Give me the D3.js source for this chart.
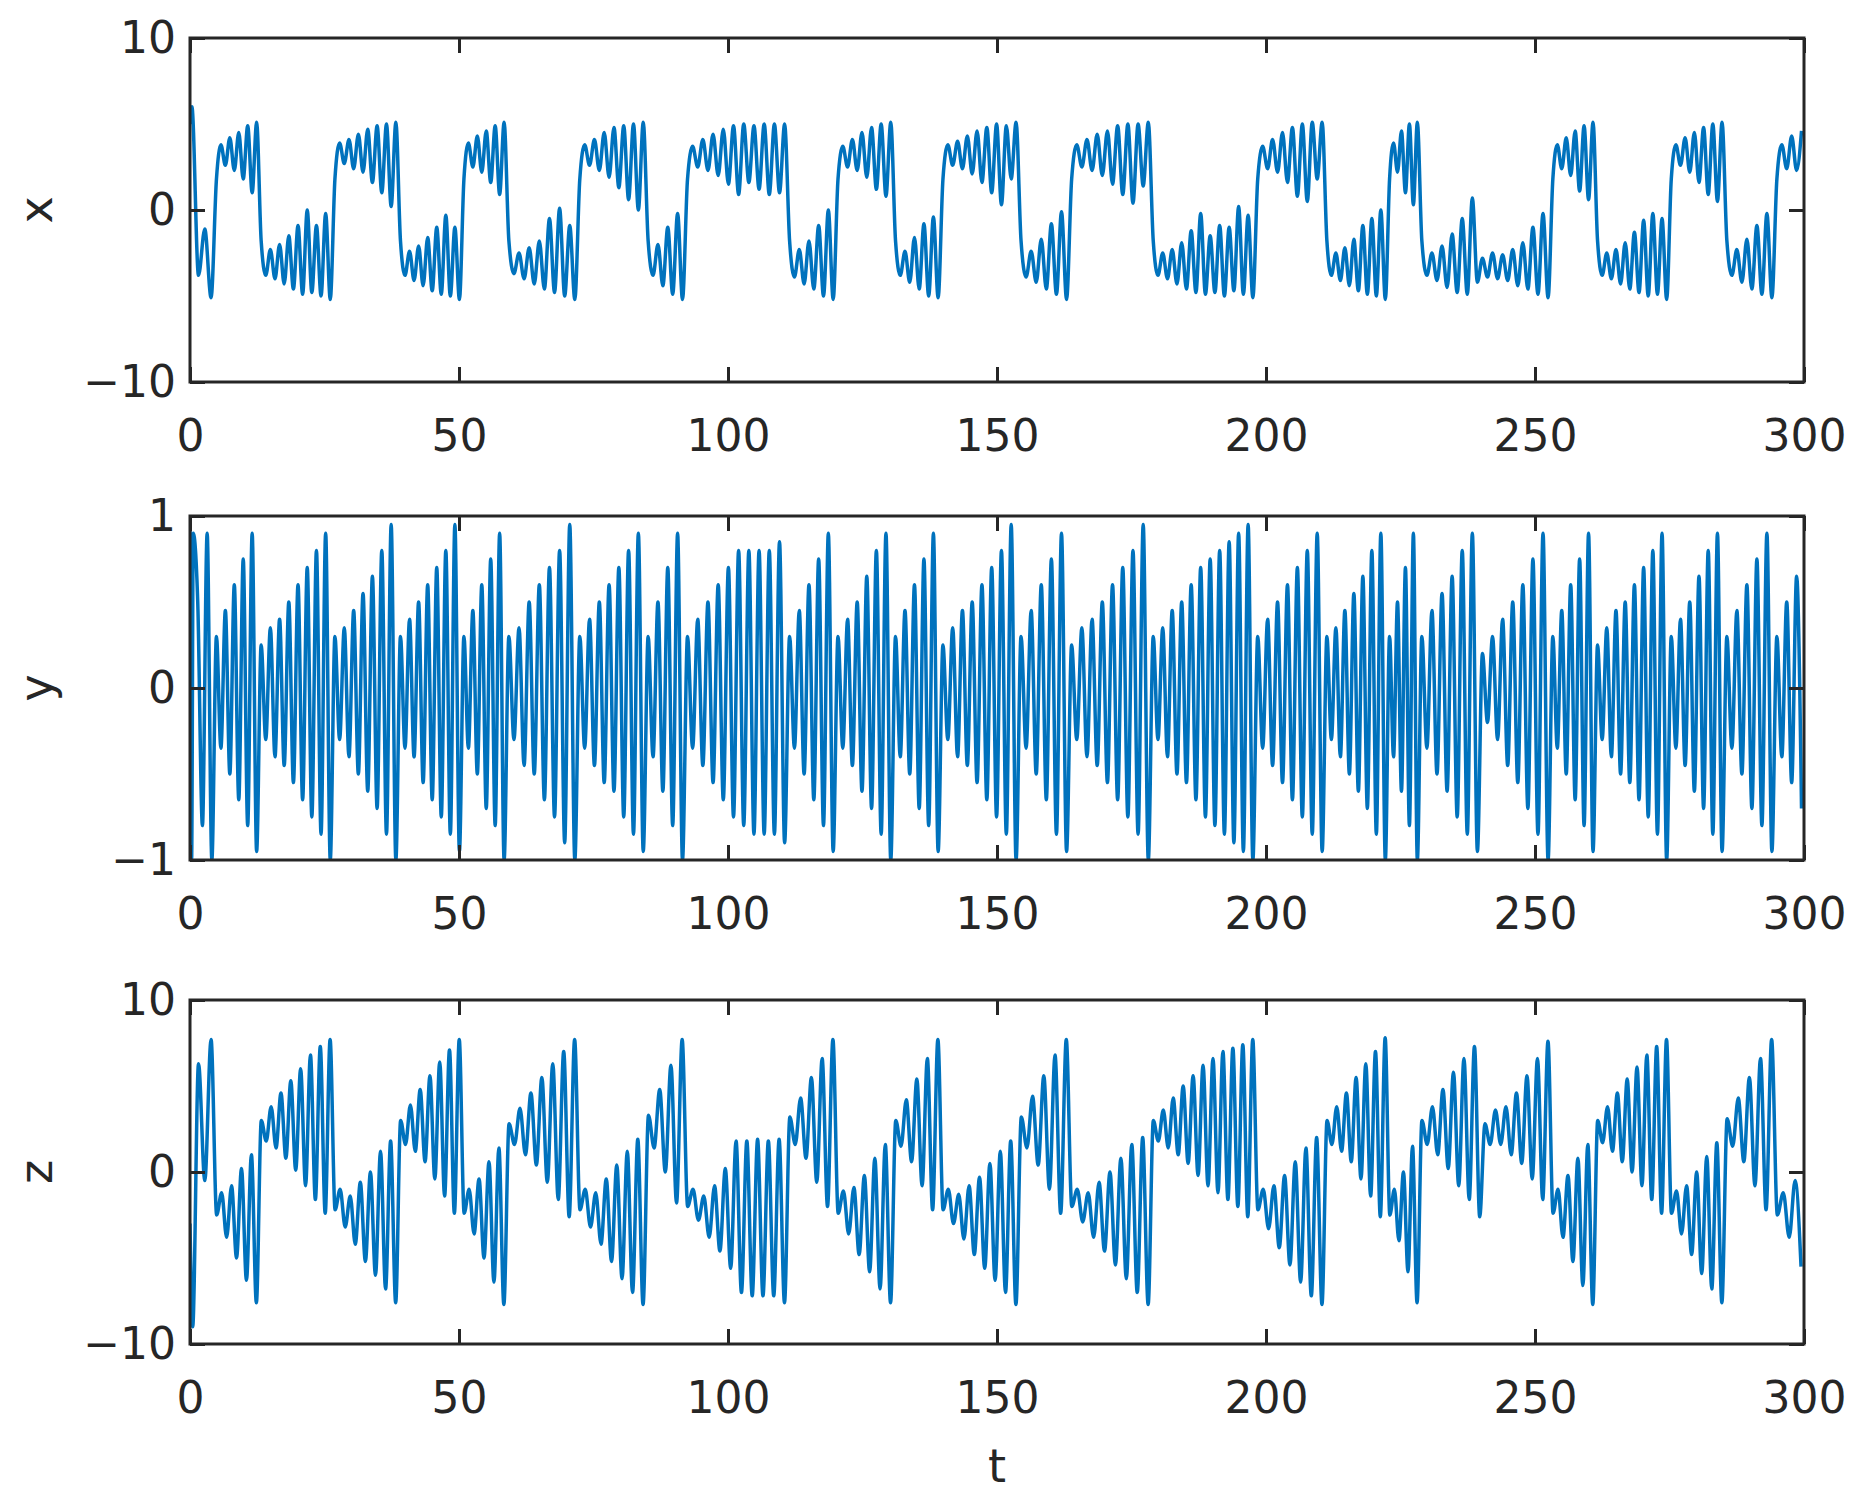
<!DOCTYPE html>
<html><head><meta charset="utf-8">
<script src="https://cdn.jsdelivr.net/npm/d3@7"></script>
<style>body{margin:0;background:#fff}</style></head>
<body><svg id="c" width="1871" height="1503"></svg>
<script>
// regime boundaries (t)
const bounds = [1,4.5,12.8,26.5,38.7,50.5,58.8,72,84.7,92,111,120,130.7,139.5,154,163.4,178.6,198,210.9,222.6,228.5,252.9,261.2,274.9,285.2,294.5,300];
const xTicks = [0,50,100,150,200,250,300];
const x0 = [[0,5],[0.35,6.0]];
const y0 = [[0,1],[0.3,-1],[0.6,0.9]];
const z0 = [[0,-3],[0.5,-9]];
// extrema per regime
const xVals = [
[-3.8,-1.1,-5.1],
[1.8,3.8,2.6,4.2,2.3,4.5,1.8,4.9,1.0,5.1],
[-1.8,-3.8,-2.3,-4.0,-2.0,-4.3,-1.5,-4.6,-0.9,-4.9,0.0,-4.8,-0.9,-5.0,-0.2,-5.2],
[1.8,3.9,2.7,4.1,2.4,4.4,2.2,4.7,1.6,4.9,1.0,5.0,0.2,5.1],
[-1.8,-3.8,-2.4,-4.1,-2.1,-4.4,-1.6,-4.7,-1.0,-4.9,-0.3,-5.0,-1.0,-5.2],
[1.8,3.9,2.5,4.3,2.2,4.6,1.6,4.9,0.9,5.1],
[-1.8,-3.7,-2.5,-4.0,-2.2,-4.3,-1.8,-4.6,-0.5,-4.8,0.1,-5.0,-0.9,-5.2],
[1.8,3.8,2.6,4.1,2.3,4.5,1.9,4.8,1.3,4.9,0.6,5.0,0.0,5.1],
[-1.8,-3.8,-2.0,-4.4,-1.0,-4.9,-0.2,-5.2],
[1.8,3.7,2.5,4.1,2.3,4.4,2.0,4.7,1.5,4.9,0.9,5.0,1.6,4.9,1.2,5.0,0.9,5.0,1.0,5.0],
[-1.8,-3.9,-2.3,-4.3,-1.8,-4.6,-0.9,-5.0,0.0,-5.2],
[1.8,3.7,2.5,4.1,2.3,4.5,1.9,4.8,1.2,5.0,0.8,5.1],
[-1.8,-3.8,-2.4,-4.2,-1.6,-4.6,-0.8,-5.0,-0.4,-5.1],
[1.8,3.8,2.6,4.0,2.4,4.3,2.1,4.6,1.6,4.8,1.0,5.0,0.3,4.9,1.8,5.1],
[-1.8,-3.9,-2.4,-4.2,-1.7,-4.6,-0.8,-4.9,-0.1,-5.2],
[1.8,3.8,2.5,4.1,2.3,4.4,2.0,4.6,1.5,4.9,0.9,5.0,0.4,5.0,1.4,5.1],
[-1.8,-3.8,-2.5,-4.0,-2.3,-4.3,-1.9,-4.6,-1.2,-4.8,-0.2,-4.9,-1.5,-4.8,-0.9,-5.0,-1.0,-4.7,0.2,-4.9,-0.3,-5.1],
[1.8,3.7,2.4,4.1,2.2,4.5,1.6,4.8,0.8,5.0,0.5,5.1,1.8,5.1],
[-1.8,-3.8,-2.5,-4.1,-2.2,-4.4,-1.7,-4.7,-0.9,-4.9,-0.5,-5.0,0.0,-5.2],
[1.8,3.9,2.2,4.6,1.0,5.0,0.3,5.1],
[-1.8,-3.8,-2.5,-4.1,-2.1,-4.5,-1.4,-4.8,-0.5,-4.9,0.7,-4.2,-2.8,-3.9,-2.5,-4.0,-2.6,-4.1,-2.3,-4.4,-1.9,-4.6,-1.0,-4.9,-0.2,-5.1],
[1.8,3.8,2.4,4.2,2.0,4.6,1.1,4.9,0.6,5.1],
[-1.8,-3.8,-2.5,-4.0,-2.3,-4.3,-1.9,-4.6,-1.3,-4.8,-0.6,-5.0,-0.2,-4.9,-0.5,-5.2],
[1.8,3.8,2.6,4.2,2.2,4.5,1.6,4.8,0.9,5.0,0.5,5.1],
[-1.8,-3.8,-2.3,-4.2,-1.7,-4.6,-0.9,-4.9,-0.2,-5.1],
[1.8,3.8,2.4,4.3,2.3,4.6]
];
const yVals = [
[0.5,-0.8,0.9,-1.0],
[0.3,-0.35,0.45,-0.5,0.6,-0.65,0.75,-0.8,0.9,-0.95],
[0.25,-0.3,0.35,-0.4,0.4,-0.45,0.5,-0.55,0.6,-0.65,0.7,-0.75,0.8,-0.85,0.9,-1.0],
[0.3,-0.3,0.35,-0.4,0.45,-0.5,0.55,-0.6,0.65,-0.7,0.8,-0.85,0.95,-1.0],
[0.3,-0.35,0.4,-0.4,0.5,-0.55,0.6,-0.65,0.7,-0.75,0.8,-0.85,0.95,-0.95],
[0.3,-0.35,0.45,-0.5,0.6,-0.7,0.75,-0.8,0.9,-1.0],
[0.3,-0.3,0.35,-0.45,0.5,-0.5,0.6,-0.65,0.7,-0.75,0.8,-0.9,0.95,-1.0],
[0.3,-0.35,0.4,-0.45,0.5,-0.55,0.6,-0.6,0.7,-0.75,0.8,-0.85,0.9,-0.95],
[0.3,-0.4,0.5,-0.6,0.7,-0.8,0.9,-1.0],
[0.3,-0.35,0.4,-0.45,0.5,-0.55,0.6,-0.65,0.7,-0.75,0.8,-0.8,0.8,-0.85,0.8,-0.85,0.8,-0.85,0.85,-0.9],
[0.3,-0.35,0.45,-0.5,0.6,-0.65,0.75,-0.8,0.9,-0.95],
[0.3,-0.35,0.4,-0.45,0.5,-0.6,0.65,-0.7,0.8,-0.85,0.9,-1.0],
[0.3,-0.4,0.45,-0.5,0.6,-0.7,0.75,-0.8,0.9,-0.95],
[0.25,-0.3,0.35,-0.4,0.45,-0.45,0.5,-0.55,0.6,-0.65,0.7,-0.75,0.8,-0.85,0.95,-1.0],
[0.3,-0.35,0.45,-0.5,0.6,-0.65,0.75,-0.85,0.9,-0.95],
[0.25,-0.3,0.35,-0.4,0.4,-0.45,0.5,-0.55,0.6,-0.65,0.7,-0.75,0.8,-0.85,0.95,-1.0],
[0.3,-0.3,0.35,-0.4,0.45,-0.5,0.5,-0.55,0.6,-0.65,0.7,-0.75,0.75,-0.8,0.8,-0.85,0.85,-0.9,0.9,-0.95,0.95,-1.0],
[0.3,-0.35,0.4,-0.45,0.5,-0.55,0.6,-0.65,0.7,-0.75,0.8,-0.85,0.9,-0.95],
[0.3,-0.3,0.35,-0.4,0.45,-0.5,0.55,-0.6,0.65,-0.7,0.8,-0.85,0.9,-1.0],
[0.3,-0.4,0.5,-0.6,0.7,-0.8,0.9,-1.0],
[0.3,-0.35,0.45,-0.5,0.55,-0.6,0.65,-0.75,0.8,-0.85,0.9,-0.95,0.2,-0.2,0.3,-0.3,0.4,-0.45,0.5,-0.55,0.6,-0.7,0.75,-0.85,0.9,-1.0],
[0.3,-0.35,0.45,-0.5,0.6,-0.65,0.75,-0.8,0.9,-0.95],
[0.25,-0.3,0.35,-0.4,0.45,-0.5,0.5,-0.55,0.6,-0.65,0.7,-0.75,0.8,-0.85,0.9,-1.0],
[0.3,-0.35,0.4,-0.45,0.5,-0.6,0.65,-0.7,0.8,-0.85,0.9,-0.95],
[0.3,-0.35,0.45,-0.5,0.6,-0.7,0.75,-0.8,0.9,-0.95],
[0.3,-0.4,0.5,-0.55,0.65,-0.7]
];
const zVals = [
[6.3,-0.5,7.7],
[-2.5,-1.2,-3.8,-0.8,-5.0,0.2,-6.3,1.0,-7.6],
[3.0,1.8,3.8,1.4,4.6,0.8,5.3,0.1,6.0,-0.8,6.8,-1.6,7.3,-2.4,7.7],
[-2.2,-1.0,-3.2,-1.4,-4.2,-0.6,-5.2,0.0,-6.0,1.2,-6.8,1.8,-7.6],
[3.0,1.6,3.9,1.2,4.8,0.6,5.6,-0.4,6.4,-1.4,7.1,-2.4,7.7],
[-2.4,-1.0,-3.6,-0.4,-5.0,0.6,-6.4,1.4,-7.7],
[2.8,1.6,3.7,1.0,4.6,0.4,5.5,-0.6,6.3,-1.6,7.0,-2.6,7.7],
[-2.2,-1.0,-3.2,-1.2,-4.2,-0.4,-5.2,0.4,-6.2,1.2,-7.0,1.9,-7.7],
[3.3,1.4,4.8,0.0,6.2,-1.8,7.7],
[-2.0,-1.0,-2.8,-1.4,-3.8,-0.8,-4.6,0.2,-5.6,1.8,-7.0,1.8,-7.2,1.9,-7.2,1.8,-7.2,1.9,-7.6],
[3.2,1.6,4.3,0.8,5.5,-0.6,6.6,-2.0,7.7],
[-2.4,-1.1,-3.6,-0.9,-4.8,-0.2,-5.8,0.8,-6.8,1.6,-7.6],
[3.0,1.5,4.2,0.6,5.4,-0.8,6.6,-2.2,7.7],
[-2.2,-1.0,-3.0,-1.3,-3.9,-0.8,-4.8,-0.3,-5.6,0.5,-6.3,1.2,-7.0,1.8,-7.7],
[3.2,1.4,4.4,0.4,5.6,-1.0,6.8,-2.4,7.7],
[-2.0,-1.0,-2.9,-1.2,-3.8,-0.6,-4.6,0.0,-5.4,0.8,-6.2,1.6,-7.0,2.0,-7.7],
[3.0,1.8,3.6,1.4,4.3,1.0,5.0,0.5,5.6,-0.2,6.2,-0.8,6.6,-1.2,7.0,-1.6,7.2,-2.0,7.4,-2.6,7.7],
[-2.2,-1.0,-3.3,-0.8,-4.4,-0.2,-5.4,0.6,-6.4,1.4,-7.2,2.0,-7.7],
[3.0,1.6,3.8,1.2,4.6,0.6,5.5,-0.4,6.3,-1.4,7.0,-2.6,7.8],
[-2.5,-1.0,-4.0,0.0,-5.8,1.5,-7.6],
[3.0,1.6,3.8,1.0,4.8,0.2,5.8,-0.8,6.6,-1.6,7.3,-2.6,2.8,1.6,3.6,1.6,3.8,1.0,4.6,0.5,5.6,-0.4,6.6,-1.6,7.6],
[-2.4,-1.0,-3.8,-0.2,-5.2,0.8,-6.6,1.6,-7.7],
[3.0,1.7,3.8,1.2,4.6,0.6,5.4,0.0,6.1,-0.8,6.8,-1.6,7.3,-2.4,7.7],
[-2.4,-1.1,-3.6,-0.8,-4.8,0.0,-5.9,0.9,-6.8,1.7,-7.6],
[3.1,1.5,4.3,0.6,5.5,-0.8,6.6,-2.2,7.7],
[-2.5,-1.2,-3.8,-0.5,-5.5]
];

function build(init, vals){
  const pts = init.slice();
  vals.forEach((arr,i)=>{
    const a=bounds[i], b=bounds[i+1], n=arr.length;
    arr.forEach((v,k)=>pts.push([a+(k+0.5)*(b-a)/n, v]));
  });
  return pts;
}
const panels = [
 {name:'x', top:38, dom:[-10,10], ticks:[-10,0,10], data:build(x0,xVals)},
 {name:'y', top:516, dom:[-1,1], ticks:[-1,0,1], data:build(y0,yVals)},
 {name:'z', top:1000, dom:[-10,10], ticks:[-10,0,10], data:build(z0,zVals)}
];
const L=190, R=1804, H=344, col='#262626';
const svg=d3.select('#c');
const xs=d3.scaleLinear().domain([0,300]).range([L,R]);
const font='"DejaVu Sans", sans-serif';
panels.forEach((p,i)=>{
  const ys=d3.scaleLinear().domain(p.dom).range([p.top+H,p.top]);
  const g=svg.append('g');
  g.append('clipPath').attr('id','cp'+i).append('rect').attr('x',L).attr('y',p.top).attr('width',R-L).attr('height',H);
  g.append('path').datum(p.data).attr('clip-path','url(#cp'+i+')')
    .attr('d',d3.line().x(d=>xs(d[0])).y(d=>ys(d[1])).curve(d3.curveMonotoneX))
    .attr('fill','none').attr('stroke','#0072BD').attr('stroke-width',3.5);
  const ax=(sel)=>sel.call(s=>s.select('.domain').remove()).selectAll('text').attr('font-family',font).attr('font-size',44).attr('fill',col);
  g.append('g').attr('transform',`translate(0,${p.top+H})`).call(d3.axisBottom(xs).tickValues(xTicks).tickSize(-15).tickPadding(38).tickFormat(d3.format('d'))).call(ax);
  g.append('g').attr('transform',`translate(0,${p.top})`).call(d3.axisTop(xs).tickValues(xTicks).tickSize(-15).tickFormat('')).call(ax);
  g.append('g').attr('transform',`translate(${L},0)`).call(d3.axisLeft(ys).tickValues(p.ticks).tickSize(-15).tickPadding(14).tickFormat(d=>d<0?'\u2212'+(-d):d)).call(ax);
  g.append('g').attr('transform',`translate(${R},0)`).call(d3.axisRight(ys).tickValues(p.ticks).tickSize(-15).tickFormat('')).call(ax);
  g.selectAll('.tick line').attr('stroke',col).attr('stroke-width',3);
  g.append('rect').attr('x',L).attr('y',p.top).attr('width',R-L).attr('height',H).attr('fill','none').attr('stroke',col).attr('stroke-width',3);
  svg.append('text').attr('transform',`translate(52,${p.top+H/2}) rotate(-90)`).attr('text-anchor','middle')
    .attr('font-family',font).attr('font-size',46).attr('fill',col).text(p.name);
});
svg.append('text').attr('x',(L+R)/2).attr('y',1482).attr('text-anchor','middle').attr('font-family',font).attr('font-size',46).attr('fill',col).text('t');
</script></body></html>
